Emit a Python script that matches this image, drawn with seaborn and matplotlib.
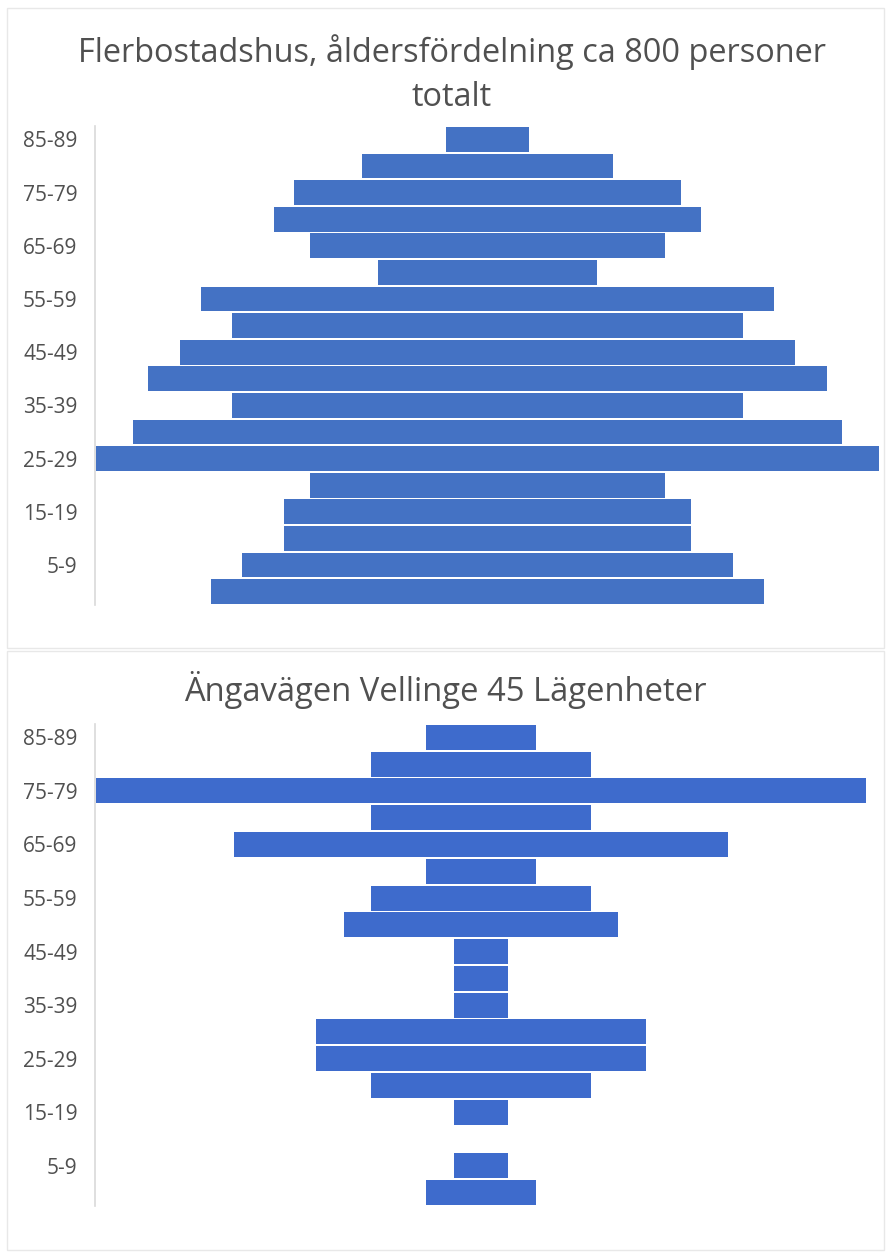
import matplotlib
matplotlib.use("Agg")
import matplotlib.pyplot as plt
import seaborn as sns
import pandas as pd
from matplotlib.patches import Rectangle

# ---- data (top row = oldest group) ----
age_groups = ["85-89", "80-84", "75-79", "70-74", "65-69", "60-64", "55-59",
              "50-54", "45-49", "40-44", "35-39", "30-34", "25-29", "20-24",
              "15-19", "10-14", "5-9", "0-4"]
flerbostad = [8, 24, 37, 41, 34, 21, 55, 49, 59, 65, 49, 68, 75, 34, 39, 39, 47, 53]
angavagen = [2, 4, 14, 4, 9, 2, 4, 5, 1, 1, 1, 6, 6, 4, 1, 0, 1, 2]
title_top = "Flerbostadshus, åldersfördelning ca 800 personer\ntotalt"
title_bottom = "Ängavägen Vellinge 45 Lägenheter"

sns.set_theme(style="white")
plt.rcParams["font.family"] = ["Open Sans", "DejaVu Sans"]

W, H = 888, 1254
fig = plt.figure(figsize=(W / 100, H / 100), dpi=100)
fig.patch.set_facecolor("white")

def px_axes(left, top, right, bottom):
    return fig.add_axes([left / W, 1 - bottom / H, (right - left) / W, (bottom - top) / H])

# panel frames
for (x0, y0, x1, y1) in [(7, 8, 884, 648), (7, 651, 884, 1250)]:
    fig.patches.append(Rectangle((x0 / W, 1 - y1 / H), (x1 - x0) / W, (y1 - y0) / H,
                                 transform=fig.transFigure, fill=False,
                                 edgecolor="#e8e8e8", linewidth=1.0))

def pyramid(ax, values, color):
    df = pd.DataFrame({"age": age_groups, "n": values})
    df["right"] = df["n"] / 2
    df["left"] = -df["n"] / 2
    for col in ["right", "left"]:
        sns.barplot(data=df, x=col, y="age", order=age_groups, orient="h",
                    color=color, saturation=1, width=0.93, linewidth=0, ax=ax)
    for p in ax.patches:
        p.set_antialiased(False)
    half = max(values) / 2
    ax.set_xlim(-half * 1.003, half * 1.003)
    ax.set_ylim(17.5, -0.5)
    ax.set_yticks(range(len(age_groups)))
    ax.set_yticklabels([a if i % 2 == 0 else "" for i, a in enumerate(age_groups)])
    ax.tick_params(axis="y", length=0, pad=12.5, labelsize=15, labelcolor="#505050")
    ax.set_xticks([])
    ax.set_xlabel("")
    ax.set_ylabel("")
    for s in ["top", "right", "bottom"]:
        ax.spines[s].set_visible(False)
    ax.spines["left"].set_color("#d9d9d9")
    ax.spines["left"].set_linewidth(1.2)
    ax.set_facecolor("none")

ax1 = px_axes(95, 126, 880, 605)
pyramid(ax1, flerbostad, "#4472C4")
ax2 = px_axes(95, 724, 867, 1206)
pyramid(ax2, angavagen, "#3E6BCC")

fig.text(452 / W, 1 - 74 / H, title_top, ha="center", va="center", fontsize=23.4,
         color="#505050", linespacing=1.45)
fig.text(445 / W, 1 - 690 / H, title_bottom, ha="center", va="center", fontsize=23.6,
         color="#505050")

fig.savefig("out.png", dpi=100, facecolor="white")
